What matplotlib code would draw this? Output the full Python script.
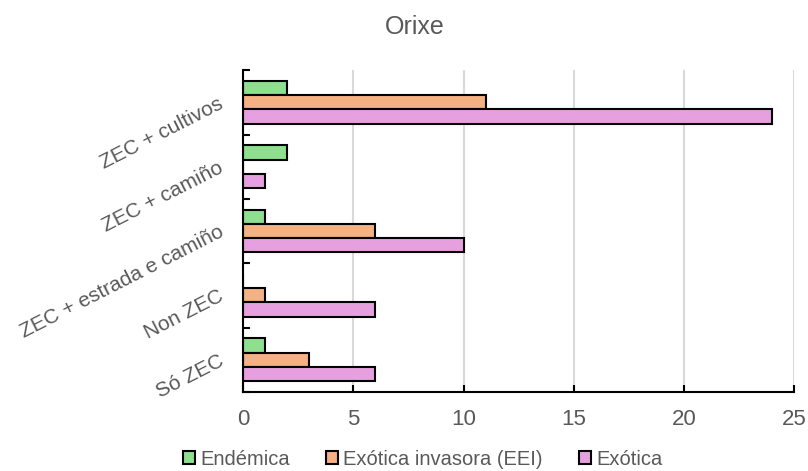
import numpy as np
import matplotlib.pyplot as plt

plt.rcParams['font.family'] = ['Liberation Sans', 'DejaVu Sans']

# categorías de abaixo a arriba
categorias = ['Só ZEC', 'Non ZEC', 'ZEC + estrada e camiño', 'ZEC + camiño', 'ZEC + cultivos']
endemica = [1, 0, 1, 2, 2]
exotica_invasora = [3, 1, 6, 0, 11]
exotica = [6, 6, 10, 1, 24]

series = [
    ('Endémica', endemica, '#8EE08E'),
    ('Exótica invasora (EEI)', exotica_invasora, '#F4B183'),
    ('Exótica', exotica, '#E6A0E0'),
]

gris = '#595959'
fig = plt.figure(figsize=(8.08, 4.71), dpi=100)
ax = fig.add_axes([0.301, 0.168, 0.682, 0.683])

y = np.arange(len(categorias))
h = 0.22
offsets = [h, 0, -h]
for (nome, vals, cor), off in zip(series, offsets):
    ax.barh(y + off, vals, height=h, color=cor, edgecolor='black',
            linewidth=1.5, label=nome, zorder=3)

ax.set_xlim(0, 25)
ax.set_ylim(-0.5, len(categorias) - 0.5)
ax.set_xticks([0, 5, 10, 15, 20, 25])
ax.grid(axis='x', color='#d9d9d9', linewidth=1.5, zorder=0)

ax.set_yticks(y)
ax.set_yticklabels(categorias, rotation=27, ha='right', va='center',
                   rotation_mode='anchor', color=gris, fontsize=15)
ax.tick_params(axis='y', length=0, pad=15)
ax.set_yticks(np.arange(-0.5, len(categorias)), minor=True)
ax.tick_params(axis='y', which='minor', direction='in', length=5, width=1.5)
ax.tick_params(axis='x', direction='in', length=5, width=1.5,
               labelcolor=gris, labelsize=16, pad=12)

for s in ['top', 'right']:
    ax.spines[s].set_visible(False)
for s in ['left', 'bottom']:
    ax.spines[s].set_linewidth(1.5)
    ax.spines[s].set_zorder(4)

fig.text(0.513, 0.943, 'Orixe', ha='center', va='center', fontsize=18, color=gris)

leg = fig.legend(loc='center', bbox_to_anchor=(0.523, 0.025), ncol=3, frameon=False,
                 fontsize=14.5, handlelength=0.6, handleheight=0.6, handletextpad=0.25,
                 columnspacing=1.8)
for t in leg.get_texts():
    t.set_color(gris)

fig.savefig('out.png', dpi=100)
